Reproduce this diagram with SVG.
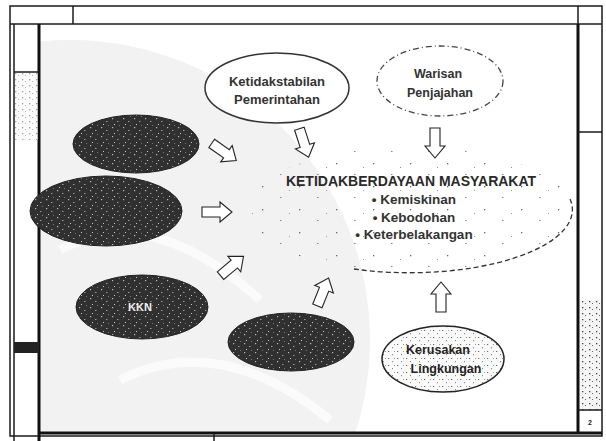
<svg xmlns="http://www.w3.org/2000/svg" width="606" height="441" viewBox="0 0 606 441">
<style>
.frame{fill:none;stroke:#1a1a1a;stroke-width:1.5}
.thick{stroke:#111;stroke-width:3}
.dark{fill:url(#speck);stroke:#222;stroke-width:1}
.lbl{font-family:"Liberation Sans",Arial,sans-serif;font-weight:bold;fill:#333;text-anchor:middle}
.arrow{fill:#fff;stroke:#222;stroke-width:1.1;stroke-linejoin:miter}
</style>
<defs>
<pattern id="speck" width="11" height="9" patternUnits="userSpaceOnUse">
<rect width="11" height="9" fill="#303030"/>
<rect x="2" y="1" width="1.2" height="1.2" fill="#bbb"/>
<rect x="7" y="4" width="1.5" height="1" fill="#999"/>
<rect x="4" y="7" width="1" height="1" fill="#ccc"/>
<rect x="9" y="8" width="1" height="1" fill="#777"/>
</pattern>
<pattern id="lightspeck" width="9" height="7" patternUnits="userSpaceOnUse">
<rect width="9" height="7" fill="#fafafa"/>
<rect x="1" y="1" width="1.2" height="1" fill="#666"/>
<rect x="5" y="4" width="1" height="1.2" fill="#888"/>
<rect x="7" y="1" width="1" height="1" fill="#999"/>
</pattern>
<pattern id="faint" width="37" height="23" patternUnits="userSpaceOnUse">
<rect x="3" y="2" width="1.3" height="1.3" fill="#666"/>
<rect x="21" y="13" width="1.5" height="1" fill="#888"/>
<rect x="30" y="6" width="1" height="1" fill="#999"/>
</pattern>
<pattern id="colspeck" width="7" height="6" patternUnits="userSpaceOnUse">
<rect width="7" height="6" fill="#f6f6f6"/>
<rect x="1" y="1" width="1.3" height="1.3" fill="#444"/>
<rect x="4" y="3" width="1" height="1" fill="#666"/>
</pattern>
<path id="arr" d="M-15,-5 H3 V-10 L15,0 L3,10 V5 H-15 Z"/>
<clipPath id="panel"><rect x="40" y="24" width="538" height="409"/></clipPath>
</defs>
<rect width="606" height="441" fill="#ffffff"/>
<g clip-path="url(#panel)">
<circle cx="70" cy="340" r="300" fill="#f2f2f2"/>
<path d="M60,250 Q150,200 260,300" fill="none" stroke="#fbfbfb" stroke-width="9"/>
<path d="M120,380 Q220,330 330,420" fill="none" stroke="#fbfbfb" stroke-width="9"/>
</g>
<g id="frame">
<rect x="10" y="6" width="592" height="430" class="frame"/>
<line x1="10" y1="24" x2="602" y2="24" class="frame"/>
<line x1="73" y1="6" x2="73" y2="24" class="frame"/>
<line x1="578" y1="6" x2="578" y2="24" class="frame"/>
<line x1="39" y1="24" x2="39" y2="441" class="thick"/>
<line x1="578" y1="24" x2="578" y2="433" class="thick"/>
<line x1="39" y1="433" x2="602" y2="433" class="thick"/>
<line x1="14" y1="24" x2="14" y2="441" class="frame"/>
<line x1="14" y1="72" x2="39" y2="72" class="frame"/>
<rect x="15" y="73" width="23" height="67" fill="url(#colspeck)" opacity="0.5"/>
<rect x="14" y="342" width="25" height="11" fill="#222"/>
<line x1="578" y1="132" x2="602" y2="132" class="frame"/>
<rect x="580" y="300" width="21" height="110" fill="url(#colspeck)"/>
<line x1="578" y1="410" x2="602" y2="410" class="frame"/>
<text x="590" y="425" font-family="Liberation Sans,Arial,sans-serif" font-size="7" font-weight="bold" fill="#222" text-anchor="middle">2</text>
<line x1="214" y1="433" x2="214" y2="441" class="frame"/>
</g>
<g id="n-center">
<ellipse cx="410" cy="210" rx="163" ry="63" fill="url(#faint)"/>
<path d="M354,269 A163,63 0 0 0 570,199" fill="none" stroke="#333" stroke-width="1.3" stroke-dasharray="5,3"/>
<text x="411" y="186" class="lbl" font-size="14" style="fill:#2a2a2a">KETIDAKBERDAYAAN MASYARAKAT</text>
<text x="414" y="204" class="lbl" font-size="13.5">• Kemiskinan</text>
<text x="414" y="222" class="lbl" font-size="13.5">• Kebodohan</text>
<text x="414" y="239" class="lbl" font-size="13.5">• Keterbelakangan</text>
</g>
<g id="n-ketidakstabilan">
<ellipse cx="277" cy="88" rx="72" ry="35" fill="#fff" stroke="#333" stroke-width="1.5"/>
<text x="277" y="86" class="lbl" font-size="13">Ketidakstabilan</text>
<text x="277" y="104" class="lbl" font-size="13">Pemerintahan</text>
</g>
<g id="n-warisan">
<ellipse cx="440" cy="81" rx="63" ry="35" fill="#fff" stroke="#444" stroke-width="1.3" stroke-dasharray="6,3,1,3"/>
<text x="438" y="78" class="lbl" font-size="12.5" font-weight="normal">Warisan</text>
<text x="440" y="97" class="lbl" font-size="12.5" font-weight="normal">Penjajahan</text>
</g>
<g id="n-dark1">
<ellipse cx="136" cy="144" rx="63" ry="29" class="dark"/>
</g>
<g id="n-dark2">
<ellipse cx="106" cy="211" rx="76" ry="35" class="dark"/>
</g>
<g id="n-kkn">
<ellipse cx="142" cy="307" rx="66" ry="32" class="dark"/>
<text x="140" y="311" class="lbl" font-size="11" style="fill:#eeeeee">KKN</text>
</g>
<g id="n-dark4">
<ellipse cx="291" cy="342" rx="63" ry="29" class="dark"/>
</g>
<g id="n-kerusakan">
<ellipse cx="443" cy="359" rx="61" ry="33" fill="url(#lightspeck)" stroke="#222" stroke-width="1.5"/>
<text x="438" y="354" class="lbl" font-size="12.5" style="fill:#222">Kerusakan</text>
<text x="446" y="373" class="lbl" font-size="12.5" style="fill:#222">Lingkungan</text>
</g>
<g id="connectors">
<use href="#arr" class="arrow" transform="translate(304,143) rotate(72)"/>
<use href="#arr" class="arrow" transform="translate(435,143) rotate(90)"/>
<use href="#arr" class="arrow" transform="translate(224,152) rotate(35)"/>
<use href="#arr" class="arrow" transform="translate(217,212)"/>
<use href="#arr" class="arrow" transform="translate(232,266) rotate(-40)"/>
<use href="#arr" class="arrow" transform="translate(323,292) rotate(-68)"/>
<use href="#arr" class="arrow" transform="translate(441,297) rotate(-90)"/>
</g>
</svg>
